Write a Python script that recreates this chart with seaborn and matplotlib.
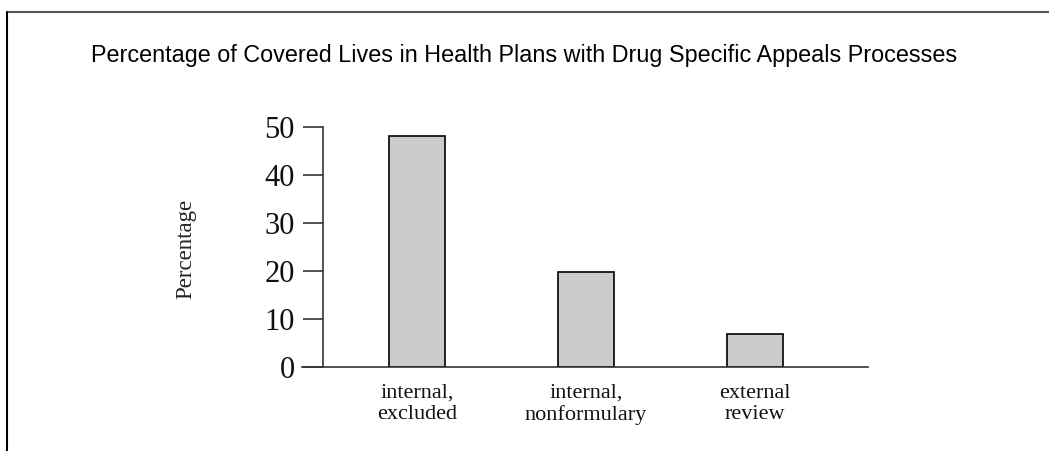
import matplotlib
matplotlib.use("Agg")
import matplotlib.pyplot as plt
from matplotlib.lines import Line2D
import seaborn as sns

# Data
categories = ["internal,\nexcluded", "internal,\nnonformulary", "external\nreview"]
percentages = [48.1, 19.8, 6.9]
y_ticks = [0, 10, 20, 30, 40, 50]

sns.set_style("white")
plt.rcParams["font.family"] = ["Liberation Serif", "DejaVu Serif"]

fig = plt.figure(figsize=(10.49, 4.51), dpi=100)
ax = fig.add_axes([0.308, 0.1863, 0.5195, 0.5321])

sns.barplot(x=categories, y=percentages, color="#cccccc", saturation=1,
            edgecolor="black", linewidth=1.2, width=0.33, ax=ax)

ax.set_xlim(-0.556, 2.67)
ax.set_ylim(0, 50)
ax.set_yticks(y_ticks)
ax.tick_params(axis="y", left=True, direction="out", length=14.5, width=1.2,
               color="#333333", labelsize=22, pad=6, labelcolor="#111111")
ax.tick_params(axis="x", bottom=False, length=0, labelsize=16, pad=12,
               labelcolor="#111111")
for lbl in ax.get_xticklabels():
    lbl.set_linespacing(1.15)

sns.despine(ax=ax)
for s in ["left", "bottom"]:
    ax.spines[s].set_color("#333333")
    ax.spines[s].set_linewidth(1.2)
# bottom axis line runs out to the end of the ticks on the left
ax.spines["bottom"].set_bounds(-0.556 - 21 / 545 * 3.226, 2.67)
ax.spines["bottom"].set_clip_on(False)

ax.set_xlabel("")
ax.set_ylabel("Percentage", fontsize=16.5, color="#222222")
ax.yaxis.set_label_coords(-0.232, 0.49)

fig.text(0.5, 0.878, "Percentage of Covered Lives in Health Plans with Drug Specific Appeals Processes",
         ha="center", va="center", fontsize=16.8, color="black",
         family=["Liberation Sans", "DejaVu Sans"])

# page frame: top and left edges only
fig.add_artist(Line2D([7 / 1049, 1], [1 - 12 / 451, 1 - 12 / 451], color="#555555", linewidth=1.5))
fig.add_artist(Line2D([7 / 1049, 7 / 1049], [0, 1 - 12 / 451], color="black", linewidth=1.5))

fig.savefig("out.png", dpi=100)
